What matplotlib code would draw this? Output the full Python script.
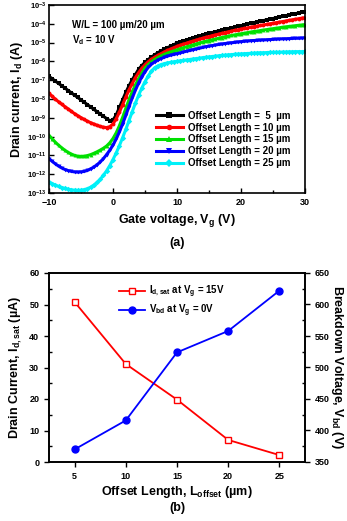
import numpy as np
import matplotlib
matplotlib.use("Agg")
import matplotlib.pyplot as plt
from matplotlib.ticker import MultipleLocator, LogLocator, FixedLocator, NullLocator

plt.rcParams['font.family'] = ['Liberation Sans', 'DejaVu Sans']
plt.rcParams['font.weight'] = 'bold'
plt.rcParams['axes.labelweight'] = 'bold'
plt.rcParams['mathtext.fontset'] = 'custom'
plt.rcParams['mathtext.rm'] = 'Liberation Sans:bold'
plt.rcParams['mathtext.bf'] = 'Liberation Sans:bold'
plt.rcParams['mathtext.it'] = 'Liberation Sans:bold'
plt.rcParams['mathtext.default'] = 'bf'

# ---------------- (a) transfer curves: log10(Id) vs Vg ----------------
vg = np.arange(-10, 30.01, 0.5)

log_id_5 = [
    -6.80, -6.92, -7.05, -7.17, -7.30, -7.42, -7.55, -7.67, -7.80, -7.92,
    -8.05, -8.17, -8.30, -8.42, -8.55, -8.67, -8.80, -8.92, -9.04, -9.15,
    -9.12, -8.85, -8.45, -8.05, -7.65, -7.30, -6.98, -6.70, -6.42, -6.22,
    -6.05, -5.90, -5.77, -5.65, -5.54, -5.44, -5.35, -5.27, -5.19, -5.11,
    -5.03, -4.97, -4.91, -4.86, -4.80, -4.75, -4.70, -4.65, -4.60, -4.56,
    -4.51, -4.47, -4.42, -4.38, -4.34, -4.30, -4.26, -4.22, -4.18, -4.14,
    -4.10, -4.06, -4.02, -3.98, -3.94, -3.90, -3.87, -3.83, -3.79, -3.75,
    -3.72, -3.68, -3.64, -3.61, -3.57, -3.53, -3.50, -3.46, -3.43, -3.39,
    -3.36]
log_id_10 = [
    -7.70, -7.86, -8.01, -8.15, -8.28, -8.41, -8.53, -8.66, -8.78, -8.89,
    -8.99, -9.09, -9.18, -9.26, -9.33, -9.40, -9.46, -9.50, -9.52, -9.47,
    -9.33, -9.05, -8.70, -8.30, -7.90, -7.52, -7.18, -6.87, -6.60, -6.37,
    -6.18, -6.02, -5.89, -5.78, -5.68, -5.59, -5.50, -5.42, -5.34, -5.27,
    -5.20, -5.14, -5.08, -5.03, -4.97, -4.92, -4.87, -4.82, -4.77, -4.72,
    -4.68, -4.63, -4.59, -4.55, -4.51, -4.47, -4.43, -4.39, -4.35, -4.32,
    -4.28, -4.25, -4.22, -4.18, -4.15, -4.12, -4.09, -4.06, -4.03, -4.00,
    -3.97, -3.94, -3.91, -3.88, -3.85, -3.82, -3.79, -3.76, -3.73, -3.70,
    -3.67]
log_id_15 = [
    -9.93, -10.12, -10.30, -10.46, -10.60, -10.73, -10.84, -10.93, -11.00, -11.04,
    -11.05, -11.04, -11.01, -10.96, -10.89, -10.81, -10.72, -10.62, -10.50, -10.33,
    -10.10, -9.80, -9.42, -8.98, -8.50, -8.04, -7.62, -7.25, -6.92, -6.63,
    -6.35, -6.17, -6.02, -5.90, -5.80, -5.71, -5.63, -5.56, -5.50, -5.44,
    -5.38, -5.32, -5.27, -5.22, -5.17, -5.12, -5.07, -5.02, -4.97, -4.93,
    -4.89, -4.85, -4.81, -4.77, -4.73, -4.69, -4.66, -4.62, -4.59, -4.56,
    -4.53, -4.50, -4.47, -4.44, -4.41, -4.39, -4.36, -4.33, -4.31, -4.28,
    -4.26, -4.23, -4.21, -4.18, -4.16, -4.14, -4.12, -4.10, -4.08, -4.06,
    -4.04]
log_id_20 = [
    -11.17, -11.32, -11.45, -11.57, -11.67, -11.75, -11.81, -11.85, -11.88, -11.89,
    -11.88, -11.85, -11.80, -11.72, -11.62, -11.50, -11.35, -11.17, -10.96, -10.72,
    -10.45, -10.12, -9.75, -9.33, -8.87, -8.40, -7.95, -7.53, -7.15, -6.82,
    -6.54, -6.32, -6.15, -6.03, -5.93, -5.85, -5.78, -5.72, -5.67, -5.63,
    -5.59, -5.55, -5.50, -5.46, -5.42, -5.38, -5.34, -5.30, -5.26, -5.22,
    -5.19, -5.16, -5.13, -5.10, -5.08, -5.05, -5.03, -5.01, -4.99, -4.97,
    -4.95, -4.93, -4.92, -4.90, -4.89, -4.88, -4.87, -4.86, -4.85, -4.84,
    -4.83, -4.82, -4.81, -4.80, -4.80, -4.79, -4.78, -4.77, -4.77, -4.76,
    -4.75]
log_id_25 = [
    -12.41, -12.50, -12.58, -12.65, -12.71, -12.76, -12.80, -12.83, -12.85, -12.86,
    -12.85, -12.82, -12.77, -12.69, -12.58, -12.44, -12.27, -12.06, -11.82, -11.54,
    -11.22, -10.87, -10.48, -10.06, -9.62, -9.15, -8.68, -8.22, -7.80, -7.42,
    -7.08, -6.78, -6.52, -6.34, -6.24, -6.17, -6.12, -6.08, -6.05, -6.02,
    -6.00, -5.97, -5.95, -5.92, -5.90, -5.87, -5.85, -5.83, -5.80, -5.78,
    -5.76, -5.74, -5.72, -5.70, -5.68, -5.67, -5.65, -5.64, -5.62, -5.61,
    -5.60, -5.59, -5.58, -5.57, -5.56, -5.55, -5.54, -5.54, -5.53, -5.52,
    -5.52, -5.51, -5.51, -5.50, -5.50, -5.49, -5.49, -5.48, -5.48, -5.48,
    -5.47]

series_a = [log_id_5, log_id_10, log_id_15, log_id_20, log_id_25]
labels_a = ["Offset Length =  5  \u00b5m", "Offset Length = 10 \u00b5m",
            "Offset Length = 15 \u00b5m", "Offset Length = 20 \u00b5m",
            "Offset Length = 25 \u00b5m"]
colors_a = ["#000000", "#ff0000", "#00e000", "#0000ff", "#00f0f8"]
markers_a = ["s", "o", "^", "v", "D"]

# ---------------- (b) offset length dependence ----------------
offset_len = [5, 10, 15, 20, 25]
id_sat = [50.8, 31.1, 19.8, 7.0, 2.2]
v_bd = [370, 416, 524, 558, 622]

W, H = 347, 521
fig = plt.figure(figsize=(W / 100, H / 100), dpi=100)

# ----- panel (a)
axa = fig.add_axes([49 / W, 1 - 193 / H, 256 / W, 188 / H])
for y, lab, c, m in zip(series_a, labels_a, colors_a, markers_a):
    axa.plot(vg, 10.0 ** np.array(y), color=c, marker=m, markersize=2.8,
             linewidth=2.2, markeredgewidth=0, label=lab)
axa.set_yscale('log')
axa.set_xlim(-10, 30)
axa.set_ylim(1e-13, 1e-3)
axa.xaxis.set_major_locator(FixedLocator([-10, 0, 10, 20, 30]))
axa.xaxis.set_minor_locator(MultipleLocator(5))
axa.yaxis.set_major_locator(LogLocator(base=10, numticks=20))
axa.yaxis.set_minor_locator(NullLocator())
axa.tick_params(axis='both', which='both', direction='in', labelsize=6.5,
                width=1.0)
axa.tick_params(axis='both', which='major', length=3.5)
axa.tick_params(axis='both', which='minor', length=2)
axa.tick_params(axis='y', labelsize=5.5, pad=2)
for s in axa.spines.values():
    s.set_linewidth(1.2)
axa.set_xlabel("Gate voltage, V$_g$ (V)", fontsize=9, labelpad=4)
axa.set_ylabel("Drain current, I$_d$ (A)", fontsize=9, labelpad=1)
axa.text(0.09, 0.92, "W/L = 100 \u00b5m/20 \u00b5m\nV$_d$ = 10 V",
         transform=axa.transAxes, fontsize=7, va='top', ha='left',
         linespacing=1.3)
lega = axa.legend(loc='lower right', bbox_to_anchor=(0.965, 0.1), frameon=False,
                  fontsize=7, handlelength=2.8, handletextpad=0.5,
                  labelspacing=0.2, borderaxespad=0.2)
for h in lega.get_lines():
    h.set_markersize(4)
fig.text(177 / W, 1 - 243 / H, "(a)", fontsize=9, ha='center', va='center')

# ----- panel (b)
axb = fig.add_axes([49 / W, 1 - 462 / H, 256 / W, 189 / H])
l1, = axb.plot(offset_len, id_sat, color='#ff0000', marker='s', markersize=5,
               markerfacecolor='white', markeredgecolor='#ff0000',
               markeredgewidth=1.0, linewidth=1.3,
               label="I$_{d,sat}$ at V$_g$ = 15V")
axb.set_xlim(2.5, 27.5)
axb.set_ylim(0, 60)
axb.xaxis.set_major_locator(FixedLocator(offset_len))
axb.yaxis.set_major_locator(MultipleLocator(10))
axb.yaxis.set_minor_locator(MultipleLocator(5))
axb.tick_params(axis='both', which='major', direction='out', length=3.5,
                labelsize=6.5, width=1.0)
axb.tick_params(axis='y', which='minor', direction='in', length=2, width=1.0)
axb.set_xlabel("Offset Length, L$_{offset}$ (\u00b5m)", fontsize=9, labelpad=2)
axb.set_ylabel("Drain Current, I$_{d,sat}$ (\u00b5A)", fontsize=9, labelpad=4)

axr = axb.twinx()
l2, = axr.plot(offset_len, v_bd, color='#0000ff', marker='o', markersize=5,
               markerfacecolor='#0000ff', markeredgecolor='#0000ff',
               linewidth=1.3, label="V$_{bd}$ at V$_g$ = 0V")
axr.set_ylim(350, 650)
axr.yaxis.set_major_locator(MultipleLocator(50))
axr.yaxis.set_minor_locator(MultipleLocator(25))
axr.tick_params(axis='y', which='major', direction='out', length=3.5,
                labelsize=6.5, width=1.0)
axr.tick_params(axis='y', which='minor', direction='in', length=2, width=1.0)
axr.set_ylabel("Breakdown Voltage, V$_{bd}$ (V)", fontsize=9, rotation=270,
               labelpad=11)
for ax in (axb, axr):
    for s in ax.spines.values():
        s.set_linewidth(1.2)
axb.legend(handles=[l1, l2], loc='upper center', bbox_to_anchor=(0.48, 0.99),
           frameon=False, fontsize=7, handlelength=2.6, handletextpad=0.4,
           labelspacing=0.3)
fig.text(177 / W, 1 - 508 / H, "(b)", fontsize=9, ha='center', va='center')

fig.savefig("out.png", dpi=100)
